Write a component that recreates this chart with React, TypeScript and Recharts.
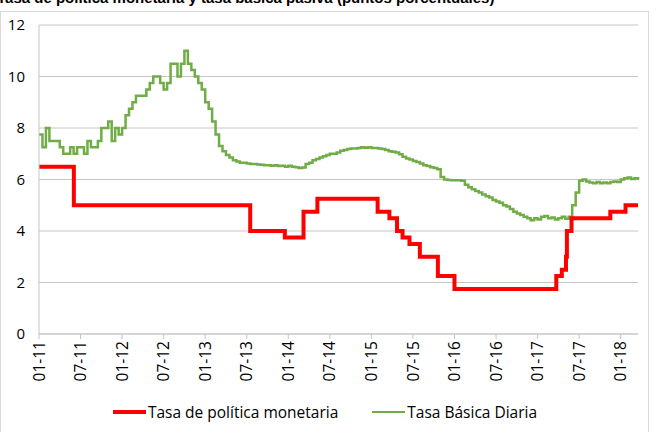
import React from 'react';
import { LineChart, Line, XAxis, YAxis, CartesianGrid, Legend } from 'recharts';

// Tasa de política monetaria: fecha de cada cambio y nivel vigente
const tpmFechas = [
  '2011-01-01', '2011-06-02', '2013-07-16', '2013-12-16', '2014-03-07', '2014-05-07',
  '2015-01-28', '2015-03-19', '2015-04-22', '2015-05-16', '2015-06-16', '2015-08-01',
  '2015-10-19', '2016-01-01', '2017-03-22', '2017-04-16', '2017-05-04', '2017-05-08',
  '2017-05-28', '2017-11-16', '2018-01-22', '2018-03-16',
];
const tpmValores = [
  6.5, 5.0, 4.0, 3.75, 4.75, 5.25,
  4.75, 4.5, 4.0, 3.75, 3.5, 3.0,
  2.25, 1.75, 2.25, 2.5, 3.0, 4.0,
  4.5, 4.75, 5.0, 5.0,
];

// Tasa básica pasiva, una lectura cada quincena desde enero 2011
const tbpInicio = '2011-01-01';
const tbpValores = [
  7.75, 7.25, 8.0, 7.5, 7.5, 7.5, 7.25, 7.0, 7.0, 7.25,
  7.0, 7.25, 7.25, 7.0, 7.5, 7.25, 7.25, 7.5, 8.0, 8.0,
  8.25, 7.5, 8.0, 7.75, 8.0, 8.5, 8.75, 9.0, 9.25, 9.25,
  9.25, 9.5, 9.75, 10.0, 10.0, 9.75, 9.5, 9.75, 10.5, 10.5,
  10.0, 10.5, 11.0, 10.5, 10.25, 10.0, 9.75, 9.5, 9.0, 8.75,
  8.25, 7.75, 7.3, 7.1, 6.95, 6.85, 6.75, 6.7, 6.65, 6.65,
  6.62, 6.6, 6.6, 6.58, 6.57, 6.55, 6.55, 6.53, 6.55, 6.52,
  6.53, 6.5, 6.53, 6.5, 6.48, 6.45, 6.47, 6.6, 6.65, 6.75,
  6.8, 6.85, 6.9, 6.95, 7.0, 7.0, 7.05, 7.12, 7.15, 7.18,
  7.2, 7.2, 7.22, 7.25, 7.23, 7.25, 7.22, 7.22, 7.2, 7.18,
  7.15, 7.1, 7.08, 7.05, 6.98, 6.88, 6.82, 6.78, 6.72, 6.68,
  6.62, 6.55, 6.52, 6.48, 6.45, 6.4, 6.1, 6.0, 5.98, 5.97,
  5.97, 5.97, 5.95, 5.8, 5.7, 5.62, 5.55, 5.5, 5.42, 5.35,
  5.3, 5.2, 5.15, 5.1, 5.0, 4.95, 4.85, 4.75, 4.68, 4.62,
  4.55, 4.5, 4.42, 4.5, 4.45, 4.55, 4.58, 4.5, 4.52, 4.45,
  4.5, 4.55, 4.48, 4.55, 5.0, 5.5, 5.95, 6.0, 5.92, 5.88,
  5.85, 5.9, 5.85, 5.88, 5.85, 5.9, 5.92, 5.9, 6.0, 6.05,
  6.08, 6.02, 6.05, 5.98,
];

const etiquetasX = [
  '01-11', '07-11', '01-12', '07-12', '01-13', '07-13', '01-14', '07-14',
  '01-15', '07-15', '01-16', '07-16', '01-17', '07-17', '01-18',
];
const ticksY = [0, 2, 4, 6, 8, 10, 12];

const aMes = (fecha: string) => {
  const [a, m, d] = fecha.split('-').map(Number);
  return (a - 2011) * 12 + (m - 1) + (d - 1) / 30;
};

const tpmData = tpmFechas.map((f, i) => ({ x: aMes(f), tpm: tpmValores[i] }));
const tbpData = tbpValores.map((v, i) => ({ x: aMes(tbpInicio) + i / 2, tbp: v }));
const ticksX = etiquetasX.map((_, i) => i * 6);
const finX = aMes(tpmFechas[tpmFechas.length - 1]);

const FONT = '"Open Sans", sans-serif';
const GRIS = '#c6c6c6';

const TickX = (props: any) => {
  const { x, y, payload } = props;
  return (
    <g transform={`translate(${x},${y})`}>
      <text transform="rotate(-90)" textAnchor="end" dy="0.36em" fontSize={15.5} fontFamily={FONT} fill="#000">
        {etiquetasX[Math.round(payload.value / 6)]}
      </text>
    </g>
  );
};

const Leyenda = () => (
  <div style={{ display: 'flex', justifyContent: 'center', alignItems: 'center', fontFamily: FONT, fontSize: 15.5, color: '#000' }}>
    <span style={{ display: 'inline-block', width: 33, height: 4, background: '#ff0000', marginRight: 2 }} />
    <span style={{ marginRight: 34 }}>Tasa de política monetaria</span>
    <span style={{ display: 'inline-block', width: 33, height: 2.5, background: '#70ad47', marginRight: 2 }} />
    <span>Tasa Básica Diaria</span>
  </div>
);

export default function App() {
  return (
    <div style={{ position: 'absolute', left: 0, top: 0, width: 656, height: 432, overflow: 'hidden', background: '#fff' }}>
      <div style={{ position: 'absolute', left: 0, top: 11, width: 649, height: 440, border: '1px solid #d9d9d9', boxSizing: 'border-box' }} />
      <div
        style={{
          position: 'absolute', left: -3, top: -11, whiteSpace: 'nowrap',
          fontFamily: '"Liberation Sans", Arial, sans-serif', fontWeight: 'bold', fontSize: 15,
        }}
      >
        Tasa de política monetaria y tasa básica pasiva (puntos porcentuales)
      </div>
      <LineChart width={656} height={432} margin={{ top: 25, right: 18, left: 0, bottom: 0 }} style={{ position: 'absolute', left: 0, top: 0 }}>
        <CartesianGrid vertical={false} stroke={GRIS} />
        <XAxis
          type="number"
          dataKey="x"
          domain={[0, finX]}
          ticks={ticksX}
          interval={0}
          height={98}
          tick={<TickX />}
          tickSize={5}
          tickMargin={2}
          axisLine={{ stroke: GRIS }}
          tickLine={{ stroke: GRIS }}
          allowDuplicatedCategory={false}
        />
        <YAxis
          domain={[0, 12]}
          ticks={ticksY}
          width={39}
          tickSize={0}
          tickMargin={14}
          axisLine={{ stroke: GRIS }}
          tickLine={false}
          tick={{ fontSize: 15, fontFamily: FONT, fill: '#000' }}
        />
        <Line
          data={tbpData}
          dataKey="tbp"
          name="Tasa Básica Diaria"
          type="stepAfter"
          stroke="#70ad47"
          strokeWidth={2.5}
          dot={false}
          isAnimationActive={false}
        />
        <Line
          data={tpmData}
          dataKey="tpm"
          name="Tasa de política monetaria"
          type="stepAfter"
          stroke="#ff0000"
          strokeWidth={4}
          dot={false}
          isAnimationActive={false}
        />
        <Legend
          layout="horizontal"
          verticalAlign="middle"
          align="center"
          content={<Leyenda />}
          wrapperStyle={{ top: 401, left: -3, width: 656 }}
        />
      </LineChart>
    </div>
  );
}
